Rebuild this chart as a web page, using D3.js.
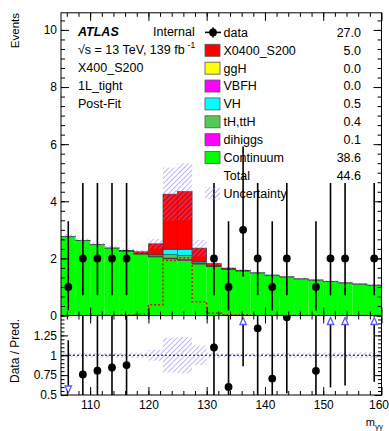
<!DOCTYPE html>
<html><head><meta charset="utf-8">
<script src="https://cdn.jsdelivr.net/npm/d3@7"></script>
<style>
body{margin:0;background:#fff}
text{font-family:"Liberation Sans",Arial,Helvetica,sans-serif;fill:#000}
</style>
</head><body><svg id="c" width="389" height="431"></svg>
<script>
// ---------------- data ----------------
const binEdges = [105,107.5,110,112.5,115,117.5,120,122.5,125,127.5,130,132.5,135,137.5,140,142.5,145,147.5,150,152.5,155,157.5,160];
const dataCounts = [1,2,2,2,2,0,0,0,0,0,2,1,3,2,1,2,0,1,2,2,0,2];
const dataErrLow  = [0.827,1.292,1.292,1.292,1.292,0,0,0,0,0,1.292,0.827,1.633,1.292,0.827,1.292,0,0.827,1.292,1.292,0,1.292];
const dataErrHigh = [2.300,2.638,2.638,2.638,2.638,0,0,0,0,0,2.638,2.300,2.918,2.638,2.300,2.638,0,2.300,2.638,2.638,0,2.638];
const continuum = [2.77,2.63,2.48,2.36,2.25,2.15,2.05,1.98,1.92,1.80,1.72,1.62,1.56,1.49,1.41,1.35,1.28,1.24,1.19,1.14,1.10,1.06];
const dihiggs   = [0.001,0.001,0.001,0.001,0.001,0.002,0.01,0.03,0.04,0.01,0.002,0.001,0.001,0.001,0.001,0.001,0.001,0.001,0.001,0.001,0.001,0.001];
const tth       = [0.003,0.003,0.003,0.003,0.01,0.01,0.03,0.12,0.15,0.03,0.01,0.01,0.003,0.003,0.003,0.003,0.003,0.003,0.003,0.003,0.003,0.003];
const vh        = [0,0,0,0,0,0.01,0.04,0.19,0.21,0.04,0.01,0,0,0,0,0,0,0,0,0,0,0];
const vbfh      = [0,0,0,0,0,0,0,0,0,0,0,0,0,0,0,0,0,0,0,0,0,0];
const ggh       = [0,0,0,0,0,0,0,0,0,0,0,0,0,0,0,0,0,0,0,0,0,0];
const signal    = [0,0,0,0,0.02,0.06,0.38,1.93,2.02,0.48,0.08,0.03,0.02,0,0,0,0,0,0,0,0,0];
const uncertainty = [0.07,0.07,0.07,0.07,0.07,0.07,0.17,0.93,0.99,0.29,0.06,0.04,0.04,0.04,0.04,0.04,0.04,0.04,0.04,0.04,0.04,0.04];

const legendNames  = ["data","X0400_S200","ggH","VBFH","VH","tH,ttH","dihiggs","Continuum","Total","Uncertainty"];
const legendYields = ["27.0","5.0","0.0","0.0","0.5","0.4","0.1","38.6","44.6",""];
const layerKeys   = ["Continuum","dihiggs","tH,ttH","VH","VBFH","ggH","X0400_S200"];
const layerColors = {"Continuum":"#00ff00","dihiggs":"#ff00ff","tH,ttH":"#55c855","VH":"#00ffff","VBFH":"#ff00ff","ggH":"#ffff00","X0400_S200":"#ff0000"};
const infoLines = ["X400_S200","1L_tight","Post-Fit"];
const xTickLabels = [110,120,130,140,150,160];
const yTickLabels = [0,2,4,6,8,10];
const rTickLabels = [0.5,0.75,1,1.25];

// ---------------- layout ----------------
const svg = d3.select("#c");
const X0 = 61, X1 = 381.5, MT = 12.8, MB = 315.5, RB = 395;
const x  = d3.scaleLinear().domain([105,160]).range([X0,X1]);
const y  = d3.scaleLinear().domain([0,10.6]).range([MB,MT]);
const yr = d3.scaleLinear().domain([0.5,1.5]).range([RB,MB]);
const FONT = '"Liberation Sans",Arial,Helvetica,sans-serif';

const defs = svg.append("defs");
const pat = defs.append("pattern").attr("id","hatch").attr("patternUnits","userSpaceOnUse")
  .attr("width",3.6).attr("height",3.6).attr("patternTransform","rotate(45)");
pat.append("line").attr("x1",0).attr("y1",0).attr("x2",0).attr("y2",3.6)
  .attr("stroke","#7c7cff").attr("stroke-width",1.1);
defs.append("clipPath").attr("id","cm").append("rect").attr("x",X0).attr("y",MT).attr("width",X1-X0).attr("height",MB-MT);
defs.append("clipPath").attr("id","cr").append("rect").attr("x",X0).attr("y",MB).attr("width",X1-X0).attr("height",RB-MB);

// table for stacking
const table = binEdges.slice(0,-1).map((lo,i)=>({
  lo, hi: binEdges[i+1],
  "Continuum":continuum[i],"dihiggs":dihiggs[i],"tH,ttH":tth[i],"VH":vh[i],
  "VBFH":vbfh[i],"ggH":ggh[i],"X0400_S200":signal[i]
}));
const stacked = d3.stack().keys(layerKeys)(table);
const total = table.map(d=>layerKeys.reduce((s,k)=>s+d[k],0));

// ---------------- main panel ----------------
const gm = svg.append("g").attr("clip-path","url(#cm)");
stacked.forEach(layer=>{
  const k = layer.key;
  gm.append("g").selectAll("rect").data(layer.filter(s=>s[1]-s[0]>0)).join("rect")
    .attr("x",s=>x(s.data.lo)).attr("width",s=>x(s.data.hi)-x(s.data.lo))
    .attr("y",s=>y(s[1])).attr("height",s=>y(s[0])-y(s[1]))
    .attr("fill",layerColors[k])
    .attr("stroke",k==="Continuum"?"none":"#333").attr("stroke-width",0.6);
});
// uncertainty hatch
gm.append("g").selectAll("rect").data(table).join("rect")
  .attr("x",d=>x(d.lo)).attr("width",d=>x(d.hi)-x(d.lo))
  .attr("y",(d,i)=>y(total[i]+uncertainty[i]))
  .attr("height",(d,i)=>y(total[i]-uncertainty[i])-y(total[i]+uncertainty[i]))
  .attr("fill","url(#hatch)");
// signal dashed outline (unstacked)
const sigLine = d3.line().curve(d3.curveStepAfter).x(d=>x(d[0])).y(d=>y(d[1]));
const sigPts = binEdges.slice(0,-1).map((e,i)=>[e,signal[i]]);
sigPts.push([160,signal[signal.length-1]]);
gm.append("path").attr("d",sigLine(sigPts)).attr("fill","none")
  .attr("stroke","#e8100a").attr("stroke-width",1.5).attr("stroke-dasharray","2,2");

// data points main
const cx = (i)=>x((binEdges[i]+binEdges[i+1])/2);
const gd = svg.append("g").attr("clip-path","url(#cm)");
dataCounts.forEach((n,i)=>{
  if(n<=0) return;
  gd.append("line").attr("x1",cx(i)).attr("x2",cx(i))
    .attr("y1",y(n+dataErrHigh[i])).attr("y2",y(n-dataErrLow[i]))
    .attr("stroke","#000").attr("stroke-width",1.6);
  gd.append("circle").attr("cx",cx(i)).attr("cy",y(n)).attr("r",3.9).attr("fill","#000");
});

// ---------------- ratio panel ----------------
const gr = svg.append("g").attr("clip-path","url(#cr)");
gr.append("g").selectAll("rect").data(table).join("rect")
  .attr("x",d=>x(d.lo)).attr("width",d=>x(d.hi)-x(d.lo))
  .attr("y",(d,i)=>yr(1+uncertainty[i]/total[i]))
  .attr("height",(d,i)=>yr(1-uncertainty[i]/total[i])-yr(1+uncertainty[i]/total[i]))
  .attr("fill","url(#hatch)");
gr.append("line").attr("x1",X0).attr("x2",X1).attr("y1",yr(1)).attr("y2",yr(1))
  .attr("stroke","#111").attr("stroke-width",1).attr("stroke-dasharray","2,2");
dataCounts.forEach((n,i)=>{
  if(n<=0) return;
  const p = total[i], r = n/p;
  const lo = Math.max(0.5,(n-dataErrLow[i])/p), hi = Math.min(1.5,(n+dataErrHigh[i])/p);
  const X = cx(i);
  if(r>1.5){
    const ty = yr(1.5)+2;
    gr.append("line").attr("x1",X).attr("x2",X).attr("y1",ty+7).attr("y2",yr(lo)).attr("stroke","#000").attr("stroke-width",1.6);
    gr.append("path").attr("d",`M${X},${ty} L${X-3.2},${ty+7} L${X+3.2},${ty+7} Z`)
      .attr("fill","#fff").attr("stroke","#5a5aff").attr("stroke-width",1.3);
  } else if(r<0.5){
    const ty = yr(0.5)-2;
    gr.append("line").attr("x1",X).attr("x2",X).attr("y1",ty-7).attr("y2",yr(hi)).attr("stroke","#000").attr("stroke-width",1.6);
    gr.append("path").attr("d",`M${X},${ty} L${X-3.2},${ty-7} L${X+3.2},${ty-7} Z`)
      .attr("fill","#fff").attr("stroke","#5a5aff").attr("stroke-width",1.3);
  } else {
    gr.append("line").attr("x1",X).attr("x2",X).attr("y1",yr(hi)).attr("y2",yr(lo)).attr("stroke","#000").attr("stroke-width",1.6);
    gr.append("circle").attr("cx",X).attr("cy",yr(r)).attr("r",3.9).attr("fill","#000");
  }
});

// ---------------- axes ----------------
function styleAxis(g){
  g.select(".domain").remove();
  g.selectAll("line").attr("stroke","#000").attr("stroke-width",1);
  g.selectAll("text").attr("font-size",12).attr("font-family",FONT).attr("fill","#000");
}
const xMinor = d3.range(106,160,2);
const yMinor = d3.range(0,10.6,1/3);
const rMinor = d3.range(0.5,1.5001,0.05);
// main panel
svg.append("g").attr("transform",`translate(${X0},0)`).call(d3.axisLeft(y).tickValues(yTickLabels).tickSize(-8).tickPadding(4).tickFormat(d3.format("d"))).call(styleAxis);
svg.append("g").attr("transform",`translate(${X0},0)`).call(d3.axisLeft(y).tickValues(yMinor).tickSize(-4).tickFormat("")).call(styleAxis);
svg.append("g").attr("transform",`translate(${X1},0)`).call(d3.axisRight(y).tickValues(yTickLabels).tickSize(-8).tickFormat("")).call(styleAxis);
svg.append("g").attr("transform",`translate(${X1},0)`).call(d3.axisRight(y).tickValues(yMinor).tickSize(-4).tickFormat("")).call(styleAxis);
svg.append("g").attr("transform",`translate(0,${MB})`).call(d3.axisBottom(x).tickValues(xTickLabels).tickSize(-8).tickFormat("")).call(styleAxis);
svg.append("g").attr("transform",`translate(0,${MB})`).call(d3.axisBottom(x).tickValues(xMinor).tickSize(-4).tickFormat("")).call(styleAxis);
svg.append("g").attr("transform",`translate(0,${MT})`).call(d3.axisTop(x).tickValues(xTickLabels).tickSize(-8).tickFormat("")).call(styleAxis);
svg.append("g").attr("transform",`translate(0,${MT})`).call(d3.axisTop(x).tickValues(xMinor).tickSize(-4).tickFormat("")).call(styleAxis);
// ratio panel
svg.append("g").attr("transform",`translate(${X0},0)`).call(d3.axisLeft(yr).tickValues(rTickLabels).tickSize(-7).tickPadding(4).tickFormat(d=>String(d))).call(styleAxis);
svg.append("g").attr("transform",`translate(${X0},0)`).call(d3.axisLeft(yr).tickValues(rMinor).tickSize(-3.5).tickFormat("")).call(styleAxis);
svg.append("g").attr("transform",`translate(${X1},0)`).call(d3.axisRight(yr).tickValues(rTickLabels).tickSize(-7).tickFormat("")).call(styleAxis);
svg.append("g").attr("transform",`translate(${X1},0)`).call(d3.axisRight(yr).tickValues(rMinor).tickSize(-3.5).tickFormat("")).call(styleAxis);
const xb = svg.append("g").attr("transform",`translate(0,${RB})`).call(d3.axisBottom(x).tickValues(xTickLabels).tickSize(-8).tickPadding(5).tickFormat(d3.format("d"))).call(styleAxis);
// keep the last label inside the window
xb.selectAll(".tick text").filter(d=>d===160).attr("text-anchor","end").attr("dx",7);
svg.append("g").attr("transform",`translate(0,${RB})`).call(d3.axisBottom(x).tickValues(xMinor).tickSize(-4).tickFormat("")).call(styleAxis);
svg.append("g").attr("transform",`translate(0,${MB})`).call(d3.axisTop(x).tickValues(xTickLabels).tickSize(-8).tickFormat("")).call(styleAxis);
svg.append("g").attr("transform",`translate(0,${MB})`).call(d3.axisTop(x).tickValues(xMinor).tickSize(-4).tickFormat("")).call(styleAxis);

// frames
svg.append("rect").attr("x",X0).attr("y",MT).attr("width",X1-X0).attr("height",MB-MT).attr("fill","none").attr("stroke","#000").attr("stroke-width",1);
svg.append("rect").attr("x",X0).attr("y",MB).attr("width",X1-X0).attr("height",RB-MB).attr("fill","none").attr("stroke","#000").attr("stroke-width",1);

// axis titles
svg.append("text").attr("transform","translate(19,13) rotate(-90)").attr("text-anchor","end")
  .attr("font-size",11.5).text("Events");
svg.append("text").attr("transform","translate(19,351) rotate(-90)").attr("text-anchor","middle")
  .attr("font-size",12).text("Data / Pred.");
const mt = svg.append("text").attr("x",383).attr("y",426).attr("text-anchor","end").attr("font-size",11);
mt.append("tspan").text("m");
mt.append("tspan").attr("font-size",8).attr("dy",2.5).text("γγ");

// ATLAS labels
const LX = 78, LY = 36, LDY = 17.9;
svg.append("text").attr("x",LX).attr("y",LY).attr("font-size",12.5).attr("font-weight","bold").attr("font-style","italic").text("ATLAS");
svg.append("text").attr("x",153).attr("y",LY).attr("font-size",12.5).text("Internal");
const en = svg.append("text").attr("x",LX).attr("y",LY+LDY).attr("font-size",12.5);
en.append("tspan").text("√s = 13 TeV, 139 fb");
en.append("tspan").attr("font-size",8.5).attr("dx",3).attr("dy",-6).text("-1");
infoLines.forEach((t,i)=>{
  svg.append("text").attr("x",LX).attr("y",LY+LDY*(i+2)).attr("font-size",12.5).text(t);
});

// legend
const legX = 205, legW = 15, legH = 12, legY0 = 32.4, legDY = 17.88;
const legColors = [null,"#ff0000","#ffff00","#ff00ff","#00ffff","#55c855","#ff00ff","#00ff00",null,null];
legendNames.forEach((name,i)=>{
  const cy = legY0 + i*legDY;
  if(i===0){
    svg.append("line").attr("x1",legX).attr("x2",legX+legW+1).attr("y1",cy).attr("y2",cy).attr("stroke","#000").attr("stroke-width",1.6);
    svg.append("line").attr("x1",legX+8).attr("x2",legX+8).attr("y1",cy-5).attr("y2",cy+5).attr("stroke","#000").attr("stroke-width",1.6);
    svg.append("circle").attr("cx",legX+8).attr("cy",cy).attr("r",3.9).attr("fill","#000");
  } else if(legColors[i]){
    svg.append("rect").attr("x",legX).attr("y",cy-legH/2).attr("width",legW).attr("height",legH)
      .attr("fill",legColors[i]).attr("stroke","#555").attr("stroke-width",0.8);
  } else if(name==="Uncertainty"){
    svg.append("rect").attr("x",legX).attr("y",cy-legH/2).attr("width",legW).attr("height",legH).attr("fill","url(#hatch)");
  }
  svg.append("text").attr("x",223.5).attr("y",cy+4.4).attr("font-size",12.5).text(name);
  if(legendYields[i]) svg.append("text").attr("x",361).attr("y",cy+4.4).attr("text-anchor","end").attr("font-size",12.5).text(legendYields[i]);
});
</script>
</body></html>
